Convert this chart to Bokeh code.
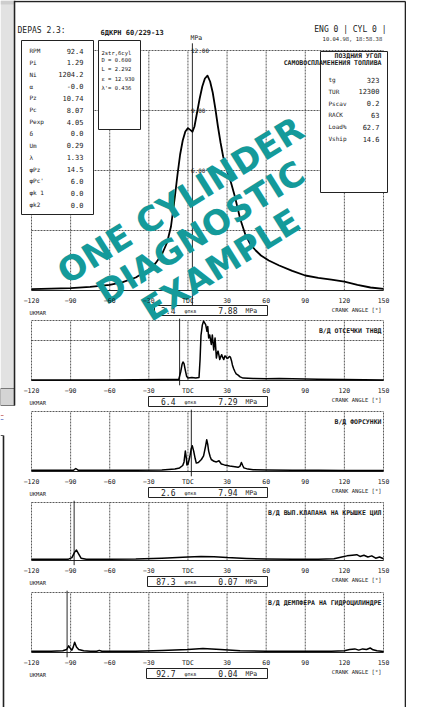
import math
from bokeh.plotting import figure
from bokeh.models import Range1d, LinearAxis, FixedTicker
from bokeh.core.properties import value
from bokeh.embed import file_html
from bokeh.resources import INLINE

# ---------------- data ----------------
angle_ticks = [-120, -90, -60, -30, 0, 30, 60, 90, 120, 150]
angle_labels = {0: "TDC"}

# cylinder pressure, MPa
press_ang = [-120, -105, -90, -75, -60, -50, -40, -30, -25, -20, -16, -13, -10, -8, -6, -4, -2, 0, 2, 3.5,
             5, 7, 9, 11, 13, 15, 17, 19, 21, 23, 25, 27, 30, 33, 36, 40, 44, 48, 52, 56,
             62, 70, 80, 90, 100, 110, 120, 130, 140, 150]
press_mpa = [0.07, 0.09, 0.12, 0.18, 0.28, 0.42, 0.65, 1.05, 1.35, 1.8, 2.4, 3.2, 4.7, 5.8, 6.8, 7.5, 7.95, 8.12, 8.02, 7.94,
             8.2, 8.9, 9.6, 10.2, 10.6, 10.74, 10.45, 9.9, 9.1, 8.2, 7.4, 6.7, 6.0, 5.4, 4.7, 3.6, 2.8, 2.3, 2.0, 1.75,
             1.5, 1.25, 0.98, 0.75, 0.63, 0.54, 0.44, 0.28, 0.15, 0.08]
press_grid = [3, 6, 9, 12]
press_labels = {6: "6.00", 9: "9.00", 12: "12.00"}

# fuel pump line pressure (fraction of full scale)
fuel_ang = [-120, -60, -20, -7, -5.5, -4.5, -3.8, -3, -2, -1, 0, 3, 6, 8.5, 9.3, 10, 11, 12, 12.8, 13.6,
            14.6, 15.2, 15.9, 16.7, 17.3, 17.9, 18.7, 19.3, 19.8, 20.8, 21.3, 21.8, 22.5, 23.1, 23.8, 24.4,
            25.2, 25.9, 26.7, 27.5, 28.3, 29, 30, 30.8, 31.8, 32.6, 33.4, 34.1, 35, 36, 37, 38.5, 40, 42.3,
            50, 60, 70, 80, 100, 120, 150]
fuel_val = [0.01, 0.01, 0.015, 0.02, 0.15, 0.27, 0.31, 0.28, 0.17, 0.07, 0.04, 0.05, 0.04, 0.05, 0.35, 0.75,
            0.92, 0.99, 0.96, 0.93, 0.82, 0.9, 0.71, 0.76, 0.68, 0.60, 0.76, 0.62, 0.51, 0.71, 0.55, 0.375,
            0.46, 0.49, 0.42, 0.35, 0.40, 0.43, 0.38, 0.35, 0.41, 0.40, 0.37, 0.375, 0.40, 0.39, 0.33, 0.26,
            0.20, 0.15, 0.11, 0.09, 0.06, 0.04, 0.035, 0.03, 0.035, 0.03, 0.02, 0.015, 0.01]

# injector line pressure (fraction of full scale)
inj_ang = [-120, -100, -88, -86, -84, -70, -40, -20, -10, -6.4, -4, -3, -2, -1.2, -0.8, 0, 1.5, 2.5, 3.3, 4.4,
           5.5, 6.4, 8, 10.3, 12, 13.5, 14.4, 15.2, 15.9, 17, 17.9, 20, 21.8, 23, 23.8, 25.6, 28, 32, 36,
           38.5, 40, 41, 42, 42.9, 46, 50, 60, 80, 100, 120, 150]
inj_val = [0.02, 0.02, 0.02, 0.05, 0.02, 0.02, 0.02, 0.025, 0.04, 0.06, 0.10, 0.16, 0.34, 0.22, 0.11, 0.12,
           0.25, 0.38, 0.43, 0.34, 0.22, 0.14, 0.15, 0.20, 0.26, 0.42, 0.53, 0.45, 0.34, 0.25, 0.20, 0.17,
           0.16, 0.17, 0.18, 0.125, 0.11, 0.09, 0.08, 0.07, 0.09, 0.15, 0.10, 0.06, 0.04, 0.03, 0.025,
           0.02, 0.02, 0.015, 0.015]

# exhaust valve drive pressure (fraction of full scale)
exh_ang = [-120, -110, -100, -92, -89, -87, -85.5, -84, -82, -78, -60, -40, -20, 0, 10, 20, 30, 45, 60, 80,
           100, 112, 118, 122, 126, 129.5, 132, 135, 138, 141, 144, 147, 150]
exh_val = [0.02, 0.02, 0.02, 0.02, 0.05, 0.14, 0.18, 0.12, 0.04, 0.02, 0.02, 0.025, 0.04, 0.06, 0.07, 0.065,
           0.05, 0.035, 0.025, 0.02, 0.02, 0.03, 0.06, 0.08, 0.09, 0.10, 0.07, 0.09, 0.06, 0.08, 0.04, 0.06, 0.03]

# damper pressure on hydraulic cylinder (fraction of full scale)
dmp_ang = [-120, -105, -96, -93, -91.5, -90, -89, -88, -86.9, -85.5, -83.8, -80, -75, -70, -68, -66, -60, -40,
           -20, 0, 11.5, 25, 40, 60, 90, 110, 120, 124, 128, 131, 134, 137, 139.8, 142, 145, 150]
dmp_val = [0.02, 0.02, 0.03, 0.05, 0.11, 0.06, 0.04, 0.09, 0.17, 0.09, 0.05, 0.03, 0.02, 0.02, 0.035, 0.02,
           0.02, 0.02, 0.035, 0.05, 0.065, 0.05, 0.03, 0.02, 0.02, 0.02, 0.03, 0.05, 0.06, 0.04, 0.06, 0.05,
           0.075, 0.045, 0.03, 0.015]

marker_ang = [3.4, -6.4, 2.6, -87.3, -92.7]
box_phi = ["3.4", "6.4", "2.6", "87.3", "92.7"]
box_p = ["7.88", "7.29", "7.94", "0.07", "0.04"]
panel_titles = ["", "В/Д ОТСЕЧКИ ТНВД", "В/Д ФОРСУНКИ", "В/Д ВЫП.КЛАПАНА НА КРЫШКЕ ЦИЛ",
                "В/Д ДЕМПФЕРА НА ГИДРОЦИЛИНДРЕ"]

param_names = ["RPM", "Pi", "Ni", "α", "Pz", "Pc", "Pexp", "δ", "Um", "λ", "φPz", "φPc'", "φk 1", "φk2"]
param_values = ["92.4", "1.29", "1204.2", "-0.0", "10.74", "8.07", "4.05", "0.0", "0.29", "1.33",
                "14.5", "6.0", "0.0", "0.0"]
engine_lines = ["2str,6cyl", "D = 0.600", "L = 2.292", "ε = 12.930", "λ'= 0.436"]
ship_names = ["tg", "TUR", "Pscav", "RACK", "Load%", "Vship"]
ship_values = ["323", "12300", "0.2", "63", "62.7", "14.6"]
ship_title = ["ПОЗДНИЯ УГОЛ", "САМОВОСПЛАМЕНЕНИЯ ТОПЛИВА"]
watermark = ["ONE CYLINDER", "DIAGNOSTIC", "EXAMPLE"]

# ---------------- layout (page pixels) ----------------
W, H = 406, 707
OX, OY = 8, 8
X_LEFT, X_RIGHT = 39, 391          # page x of -120 and 150 deg
panels = [(58, 298, 12.0), (328, 388, 1.0), (419, 479, 1.0), (510, 568, 1.0), (600, 660, 1.0)]
series = [(press_ang, press_mpa), (fuel_ang, fuel_val), (inj_ang, inj_val), (exh_ang, exh_val), (dmp_ang, dmp_val)]
box_left = [162, 156, 156, 155, 154]

MONO = value("DejaVu Sans Mono")
INK = "#1a1a1a"
GRID = "#2e2e2e"

p = figure(width=W, height=H, x_range=Range1d(OX, OX + W), y_range=Range1d(OY + H, OY),
           x_axis_type=None, y_axis_type=None, min_border=0, toolbar_location=None,
           output_backend="svg", outline_line_color=None)
p.background_fill_color = "white"
p.border_fill_color = "white"

k = (angle_ticks[-1] - angle_ticks[0]) / (X_RIGHT - X_LEFT)
p.extra_x_ranges = {"ang": Range1d(angle_ticks[0] - (X_LEFT - OX) * k, angle_ticks[-1] + (OX + W - X_RIGHT) * k)}
yr = {}
for i, (top, base, fs) in enumerate(panels):
    s = fs / (base - top)
    yr[f"y{i}"] = Range1d(0 - (OY + H - base) * s, fs + (top - OY) * s)
p.extra_y_ranges = yr

# ---------- background decoration (scan of a page behind a window) ----------
p.quad(left=[OX], right=[21], top=[OY], bottom=[396], fill_color="#e2e2e2", line_color=None)
p.quad(left=[OX], right=[21], top=[OY], bottom=[12], fill_color="#cdcdcd", line_color=None)
p.quad(left=[OX], right=[22], top=[396], bottom=[413], fill_color="#d4d4d4", line_color="#777777", line_width=1)
p.segment(x0=[22], y0=[OY], x1=[22], y1=[413], line_color="#222222", line_width=1.6)
p.segment(x0=[22], y0=[9], x1=[413], y1=[9], line_color="#222222", line_width=1.6)
p.segment(x0=[413], y0=[9], x1=[413], y1=[OY + H], line_color="#222222", line_width=1.6)
p.segment(x0=[11], y0=[443], x1=[11], y1=[OY + H], line_color="#222222", line_width=1.6)
p.segment(x0=[OX], y0=[443], x1=[11], y1=[443], line_color="#555555", line_width=1)
p.segment(x0=[OX, OX], y0=[423, 427], x1=[11, 11], y1=[423, 427], line_color=["#d08080", "#8090d0"], line_width=1)

# ---------- panels ----------
for i, (top, base, fs) in enumerate(panels):
    yn = f"y{i}"
    n = len(angle_ticks)
    p.segment(x0=angle_ticks, y0=[0] * n, x1=angle_ticks, y1=[fs] * n, x_range_name="ang", y_range_name=yn,
              line_color=GRID, line_width=0.8, line_dash="2 1")
    hgrid = press_grid if i == 0 else ([fs * 2 / 3, fs] if i == 1 else [fs])
    m = len(hgrid)
    p.segment(x0=[angle_ticks[0]] * m, y0=hgrid, x1=[angle_ticks[-1]] * m, y1=hgrid, x_range_name="ang",
              y_range_name=yn, line_color=GRID, line_width=0.8, line_dash="2 1")
    p.segment(x0=[angle_ticks[0]], y0=[0], x1=[angle_ticks[-1]], y1=[0], x_range_name="ang", y_range_name=yn,
              line_color="#222222", line_width=1.0)
    p.segment(x0=[marker_ang[i]], y0=[-0.08 * fs], x1=[marker_ang[i]], y1=[1.03 * fs], x_range_name="ang",
              y_range_name=yn, line_color="#111111", line_width=0.9)

    ax = LinearAxis(x_range_name="ang", y_range_name=yn, fixed_location=0,
                    ticker=FixedTicker(ticks=angle_ticks), major_label_overrides=angle_labels,
                    axis_line_color=None, major_tick_line_color=None, minor_tick_line_color=None,
                    major_tick_out=0, major_tick_in=0, major_label_standoff=6,
                    major_label_text_font="DejaVu Sans Mono", major_label_text_font_size="6.5px",
                    major_label_text_color=INK)
    p.add_layout(ax, "below")

    # texts below panel
    p.text(x=[37], y=[base + 22], text=["UKMAR"], text_font=MONO, text_font_size="5.5px",
           text_color=INK, text_baseline="middle", text_align="left")
    p.text(x=[389], y=[base + 19.5], text=["CRANK ANGLE [°]"], text_font=MONO, text_font_size="5.5px",
           text_color=INK, text_baseline="middle", text_align="right")
    bt = base + 15 if i == 0 else base + 16
    p.quad(left=[box_left[i]], right=[275], top=[bt], bottom=[bt + 10], fill_color="white",
           line_color="#222222", line_width=1)
    p.text(x=[183], y=[bt + 5], text=[box_phi[i]], text_font=MONO, text_font_size="8px",
           text_color=INK, text_baseline="middle", text_align="right")
    p.text(x=[192], y=[bt + 5.5], text=["φпкв"], text_font=MONO, text_font_size="5px",
           text_color=INK, text_baseline="middle", text_align="left")
    p.text(x=[245], y=[bt + 5], text=[box_p[i]], text_font=MONO, text_font_size="8px",
           text_color=INK, text_baseline="middle", text_align="right")
    p.text(x=[253], y=[bt + 5], text=["MPa"], text_font=MONO, text_font_size="6.5px",
           text_color=INK, text_baseline="middle", text_align="left")
    if panel_titles[i]:
        p.text(x=[389], y=[top + 10], text=[panel_titles[i]], text_font=MONO, text_font_style="bold",
               text_font_size="6.5px", text_color=INK, text_baseline="middle", text_align="right")

# pressure scale labels at TDC
yax = LinearAxis(x_range_name="ang", y_range_name="y0", fixed_location=0,
                 ticker=FixedTicker(ticks=list(press_labels.keys())), major_label_overrides=press_labels,
                 axis_line_color=None, major_tick_line_color=None, minor_tick_line_color=None,
                 major_tick_out=0, major_tick_in=0, major_label_standoff=3,
                 major_label_text_font="DejaVu Sans Mono", major_label_text_font_size="6px",
                 major_label_text_color=INK)
p.add_layout(yax, "right")
p.text(x=[198], y=[45], text=["MPa"], text_font=MONO, text_font_size="6.5px", text_color=INK,
       text_baseline="middle", text_align="left")

# ---------- header ----------
p.text(x=[25], y=[38], text=["DEPAS 2.3:"], text_font=MONO, text_font_size="8px", text_color=INK,
       text_baseline="middle")
p.text(x=[108], y=[40], text=["6ДКРН 60/229-13"], text_font=MONO, text_font_style="bold",
       text_font_size="7px", text_color=INK, text_baseline="middle")
p.text(x=[394], y=[37], text=["ENG 0 | CYL 0 |"], text_font=MONO, text_font_size="8px", text_color=INK,
       text_baseline="middle", text_align="right")
p.text(x=[393], y=[46], text=["10.04.98,  18:58.38"], text_font=MONO, text_font_size="5.5px",
       text_color=INK, text_baseline="middle", text_align="right")

# parameter box
p.quad(left=[29], right=[101], top=[48], bottom=[222], fill_color="white", line_color="#222222", line_width=1)
ys = [58 + 11.85 * j for j in range(len(param_names))]
p.text(x=[37] * len(ys), y=ys, text=param_names, text_font=MONO, text_font_size="6px", text_color=INK,
       text_baseline="middle")
p.text(x=[91] * len(ys), y=ys, text=param_values, text_font=MONO, text_font_size="7px", text_color=INK,
       text_baseline="middle", text_align="right")

# engine box
p.quad(left=[106], right=[148], top=[48], bottom=[137], fill_color="white", line_color="#222222", line_width=1)
p.text(x=[109] * 5, y=[60.7, 67.5, 76.7, 86, 95.7], text=engine_lines, text_font=MONO, text_font_size="5.5px",
       text_color=INK, text_baseline="middle")

# ship box
p.quad(left=[328], right=[395], top=[59], bottom=[200], fill_color="white", line_color="#222222", line_width=1)
p.text(x=[389, 389], y=[63, 70], text=ship_title, text_font=MONO, text_font_style="bold",
       text_font_size="6.5px", text_color=INK, text_baseline="middle", text_align="right")
ys2 = [87 + 11.8 * j for j in range(len(ship_names))]
p.text(x=[336] * len(ys2), y=ys2, text=ship_names, text_font=MONO, text_font_size="6px", text_color=INK,
       text_baseline="middle")
p.text(x=[387] * len(ys2), y=ys2, text=ship_values, text_font=MONO, text_font_size="7px", text_color=INK,
       text_baseline="middle", text_align="right")

# ---------- curves ----------
for i, (xa, ya) in enumerate(series):
    p.line(x=xa, y=ya, x_range_name="ang", y_range_name=f"y{i}", line_color="black",
           line_width=1.8 if i == 0 else 1.5, line_join="round")

# ---------- watermark ----------
ang = 32.0
cx, cy, gap = 208, 240, 38
dx, dy = math.sin(math.radians(ang)) * gap, math.cos(math.radians(ang)) * gap
p.text(x=[cx - dx, cx, cx + dx], y=[cy - dy, cy, cy + dy], text=watermark, angle=ang, angle_units="deg",
       text_font=value("DejaVu Sans"), text_font_style="bold", text_font_size="34px",
       text_color="#149a9a", text_align="center", text_baseline="middle")

open("out.html", "w").write(file_html(p, INLINE))
